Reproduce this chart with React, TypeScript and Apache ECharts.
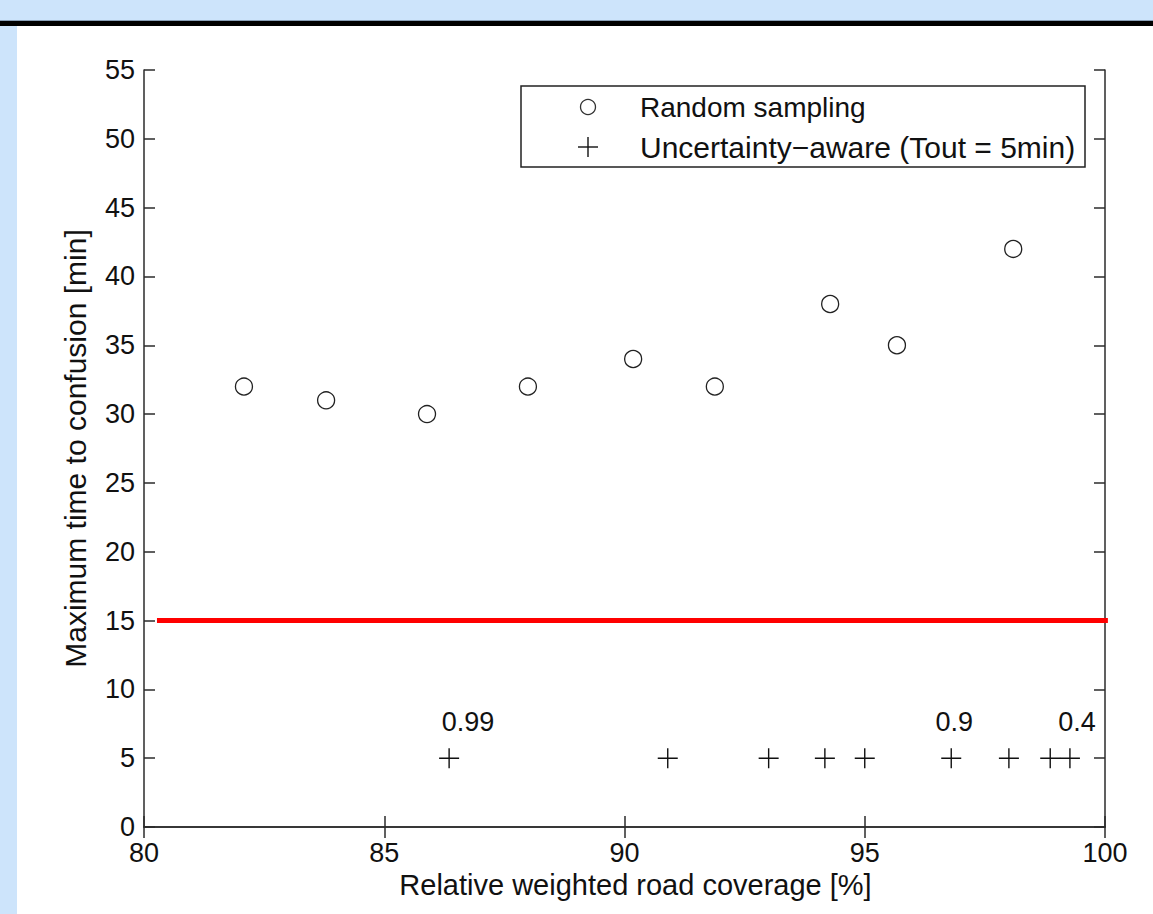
import React, { useEffect, useRef } from "react";
import * as echarts from "echarts";

// ---- data ----
const randomX = [82.08, 83.79, 85.89, 87.99, 90.18, 91.88, 94.28, 95.67, 98.09];
const randomY = [32, 31, 30, 32, 34, 32, 38, 35, 42];
const awareX = [86.35, 90.9, 93.0, 94.17, 95.0, 96.8, 98.0, 98.86, 99.27];
const awareY = [5, 5, 5, 5, 5, 5, 5, 5, 5];
const awareLabels = ["0.99", "", "", "", "", "0.9", "", "", "0.4"];
const awareLabelDx = [19, 0, 0, 0, 0, 3, 0, 0, 7];
const thresholdX = [80.27, 100.06];
const thresholdY = [15, 15];
const xTicks = { min: 80, max: 100, interval: 5 };
const yTicks = { min: 0, max: 55, interval: 5 };
const legendNames = ["Random sampling", "Uncertainty\u2212aware (Tout = 5min)"];
const xTitle = "Relative weighted road coverage [%]";
const yTitle = "Maximum time to confusion [min]";

const FONT = "'Liberation Sans', Arial, Helvetica, sans-serif";
const INK = "#111111";
const AXIS = "#2b2b2b";
const PLUS = "path://M0,10L20,10M10,0L10,20";

export default function App() {
  const ref = useRef<HTMLDivElement>(null);

  useEffect(() => {
    document.body.style.margin = "0";
    const chart = echarts.init(ref.current!, undefined, { renderer: "svg" });

    const axisCommon = {
      axisLine: { show: true, lineStyle: { color: AXIS, width: 1.5 } },
      axisTick: { show: true, inside: true, length: 11, lineStyle: { color: AXIS, width: 1.5 } },
      splitLine: { show: false },
    };

    const option: any = {
      animation: false,
      backgroundColor: "#ffffff",
      grid: { left: 144, top: 70, width: 961, height: 757, containLabel: false },
      xAxis: [
        {
          type: "value",
          position: "bottom",
          ...xTicks,
          ...axisCommon,
          axisLabel: { color: INK, fontSize: 27, fontFamily: FONT, margin: 12 },
          name: xTitle,
          nameLocation: "middle",
          nameGap: 43,
          nameTextStyle: { color: INK, fontSize: 29, fontFamily: FONT, padding: [0, 0, 0, 22] },
        },
        {
          type: "value",
          position: "top",
          ...xTicks,
          ...axisCommon,
          axisLabel: { show: false },
        },
      ],
      yAxis: [
        {
          type: "value",
          position: "left",
          ...yTicks,
          ...axisCommon,
          axisLabel: { color: INK, fontSize: 27, fontFamily: FONT, margin: 9 },
          name: yTitle,
          nameLocation: "middle",
          nameGap: 54,
          nameTextStyle: { color: INK, fontSize: 30, fontFamily: FONT },
        },
        {
          type: "value",
          position: "right",
          ...yTicks,
          ...axisCommon,
          axisLabel: { show: false },
        },
      ],
      series: [
        {
          name: "threshold",
          type: "line",
          data: thresholdX.map((x, i) => [x, thresholdY[i]]),
          symbol: "none",
          clip: false,
          lineStyle: { color: "#ff0000", width: 5 },
          z: 3,
        },
        {
          name: legendNames[0],
          type: "scatter",
          data: randomX.map((x, i) => [x, randomY[i]]),
          symbol: "circle",
          symbolSize: 17,
          itemStyle: { color: "rgba(0,0,0,0)", borderColor: "#222", borderWidth: 1.3, opacity: 1 },
          z: 4,
        },
        {
          name: legendNames[1],
          type: "scatter",
          data: awareX.map((x, i) => ({
            value: [x, awareY[i]],
            label: awareLabels[i]
              ? {
                  show: true,
                  formatter: awareLabels[i],
                  position: "inside",
                  offset: [awareLabelDx[i], -36],
                  color: INK,
                  opacity: 1,
                  textBorderWidth: 0,
                  fontSize: 27,
                  fontFamily: FONT,
                }
              : { show: false },
          })),
          symbol: PLUS,
          symbolSize: 20,
          itemStyle: { color: "rgba(0,0,0,0)", borderColor: "#111", borderWidth: 1.4, opacity: 1 },
          z: 4,
        },
      ],
      graphic: [
        // page frame
        { type: "rect", shape: { x: 0, y: 0, width: 1153, height: 21 }, style: { fill: "#cde4fb" }, z: 10 },
        { type: "rect", shape: { x: 0, y: 20, width: 1153, height: 1 }, style: { fill: "#8aa0b8" }, z: 10 },
        { type: "rect", shape: { x: 0, y: 21, width: 1153, height: 5 }, style: { fill: "#000000" }, z: 10 },
        { type: "rect", shape: { x: 0, y: 26, width: 17, height: 888 }, style: { fill: "#cde4fb" }, z: 10 },
        // legend
        {
          type: "group",
          z: 20,
          children: [
            {
              type: "rect",
              shape: { x: 521, y: 86, width: 564, height: 81 },
              style: { fill: "#ffffff", stroke: "#222", lineWidth: 1.5 },
            },
            {
              type: "circle",
              shape: { cx: 588, cy: 107, r: 7.5 },
              style: { fill: "none", stroke: "#333", lineWidth: 1.3 },
            },
            {
              type: "line",
              shape: { x1: 578, y1: 147, x2: 598, y2: 147 },
              style: { stroke: "#111", lineWidth: 1.4 },
            },
            {
              type: "line",
              shape: { x1: 588, y1: 137, x2: 588, y2: 157 },
              style: { stroke: "#111", lineWidth: 1.4 },
            },
            {
              type: "text",
              x: 640,
              y: 107,
              style: { text: legendNames[0], fill: INK, font: `28px ${FONT}`, textVerticalAlign: "middle", verticalAlign: "middle" },
            },
            {
              type: "text",
              x: 640,
              y: 147,
              style: { text: legendNames[1], fill: INK, font: `30px ${FONT}`, textVerticalAlign: "middle", verticalAlign: "middle" },
            },
          ],
        },
      ],
    };

    chart.setOption(option);
    return () => chart.dispose();
  }, []);

  return <div ref={ref} style={{ width: 1153, height: 914, position: "absolute", left: 0, top: 0 }} />;
}
